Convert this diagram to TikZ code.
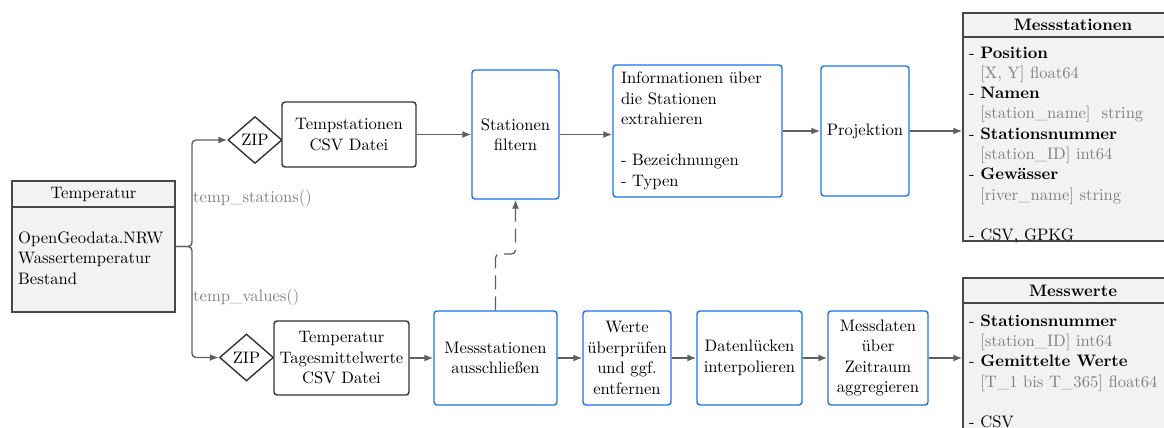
\documentclass[tikz,border=0pt]{standalone}
\usepackage{fontspec}
\setmainfont{lmroman10-regular}[Extension=.otf, BoldFont=lmroman10-bold, ItalicFont=lmroman10-italic]
\usetikzlibrary{shapes.geometric,arrows.meta}
\definecolor{bblue}{HTML}{1A73E8}
\definecolor{dgray}{HTML}{333333}
\definecolor{agray}{HTML}{606060}
\definecolor{tgray}{HTML}{808080}
\definecolor{tfill}{HTML}{F1F2F4}
\begin{document}
\begin{tikzpicture}[x=1pt,y=-1pt,
 every node/.style={font=\fontsize{16.6}{20.5}\selectfont, text=black},
 blk/.style={draw=bblue, line width=1.4pt, rounded corners=3pt, fill=white, align=center, inner sep=0pt},
 dk/.style={draw=dgray, line width=1.4pt, rounded corners=3pt, fill=white, align=center, inner sep=0pt},
 zip/.style={diamond, draw=dgray, line width=1.4pt, fill=white, minimum width=54pt, minimum height=47pt, inner sep=0pt},
 tbl/.style={draw=dgray!90, line width=1.5pt, fill=tfill, inner sep=0pt},
 arr/.style={draw=agray, line width=1.4pt, -{Latex[length=9pt,width=7pt]}},
 lbl/.style={text=tgray, anchor=west, inner sep=0pt},
 ln/.style={anchor=north west, inner sep=0pt, align=left, font=\fontsize{16.6}{20.3}\selectfont},
]
\useasboundingbox (0,0) rectangle (1164,428);

% source table
\node[tbl, minimum width=163pt, minimum height=131pt] (temp) at (93.5,246.5) {};
\draw[draw=dgray!90, line width=1.5pt] (temp.west |- 0,207) -- (temp.east |- 0,207);
\node (temph) at (93.5,194) {Temperatur};
\node[ln, font=\fontsize{16.6}{20.5}\selectfont] (tempb) at (18,231.5) {OpenGeodata.NRW\\Wassertemperatur\\Bestand};

% zip diamonds and files
\node[zip] (zip1) at (255,140) {ZIP};
\node[zip] (zip2) at (246.5,357.5) {ZIP};
\node[dk, minimum width=134pt, minimum height=65pt] (tsf) at (349,134.5) {Tempstationen\\CSV Datei};
\node[dk, minimum width=135pt, minimum height=74pt] (tmf) at (341.5,358) {Temperatur\\Tagesmittelwerte\\CSV Datei};

% top process row
\node[blk, minimum width=87pt, minimum height=129pt] (sf) at (515.5,134.5) {Stationen\\filtern};
\node[blk, minimum width=169pt, minimum height=132pt, text width=153pt, align=left] (info) at (697.5,131)
 {Informationen über\\die Stationen\\extrahieren\\[20.5pt]- Bezeichnungen\\- Typen};
\node[blk, minimum width=88pt, minimum height=130pt] (proj) at (865,131) {Projektion};

% bottom process row
\node[blk, minimum width=123pt, minimum height=94pt] (ms) at (495.5,358) {Messstationen\\ausschließen};
\node[blk, minimum width=88pt, minimum height=94pt] (wp) at (627,358) {Werte\\überprüfen\\und ggf.\\entfernen};
\node[blk, minimum width=105pt, minimum height=94pt] (dl) at (749.5,358) {Datenlücken\\interpolieren};
\node[blk, minimum width=100pt, minimum height=94pt] (ma) at (878,358) {Messdaten\\über\\Zeitraum\\aggregieren};

% result tables
\node[tbl, minimum width=220pt, minimum height=228pt] (mst) at (1073,127) {};
\draw[draw=dgray!90, line width=1.5pt] (mst.west |- 0,37) -- (mst.east |- 0,37);
\node (msth) at (1073,25) {\textbf{Messstationen}};
\node[ln] (mstb) at (969,46.5) {- \textbf{Position}\\
\phantom{- }\textcolor{tgray}{[X, Y] float64}\\
- \textbf{Namen}\\
\phantom{- }\textcolor{tgray}{[station\_name]~ string}\\
- \textbf{Stationsnummer}\\
\phantom{- }\textcolor{tgray}{[station\_ID] int64}\\
- \textbf{Gewässer}\\
\phantom{- }\textcolor{tgray}{[river\_name] string}\\[20.3pt]
- CSV, GPKG};

\node[tbl, minimum width=220pt, minimum height=167pt] (mw) at (1073,361.5) {};
\draw[draw=dgray!90, line width=1.5pt] (mw.west |- 0,303) -- (mw.east |- 0,303);
\node (mwh) at (1073,291) {\textbf{Messwerte}};
\node[ln] (mwb) at (969,314.5) {- \textbf{Stationsnummer}\\
\phantom{- }\textcolor{tgray}{[station\_ID] int64}\\
- \textbf{Gemittelte Werte}\\
\phantom{- }\textcolor{tgray}{[T\_1 bis T\_365] float64}\\[20.3pt]
- CSV};

% connectors
\coordinate (split) at (192,246.5);
\draw[arr, rounded corners=4pt] (temp.east) -- (split) |- (zip1.west);
\draw[arr, rounded corners=4pt] (temp.east) -- (split) |- (zip2.west);
\node[lbl] (l1) at (193,198) {temp\_stations()};
\node[lbl] (l2) at (193,297) {temp\_values()};

\draw[arr] (tsf.east) -- (tsf.east -| sf.west);
\draw[arr] (tmf.east) -- (tmf.east -| ms.west);
\draw[arr] (sf.east) -- (sf.east -| info.west);
\draw[arr] (info.east |- proj.west) -- (proj.west);
\draw[arr] (proj.east) -- (proj.east -| mst.west);

\draw[arr] (ms.east) -- (wp.west);
\draw[arr] (wp.east) -- (dl.west);
\draw[arr] (dl.east) -- (ma.west);
\draw[arr] (ma.east) -- (ma.east -| mw.west);

\draw[arr, dash pattern=on 14pt off 7pt, rounded corners=4pt] (ms.north) -- (ms.north |- 0,254) -| (sf.south);
\end{tikzpicture}
\end{document}
